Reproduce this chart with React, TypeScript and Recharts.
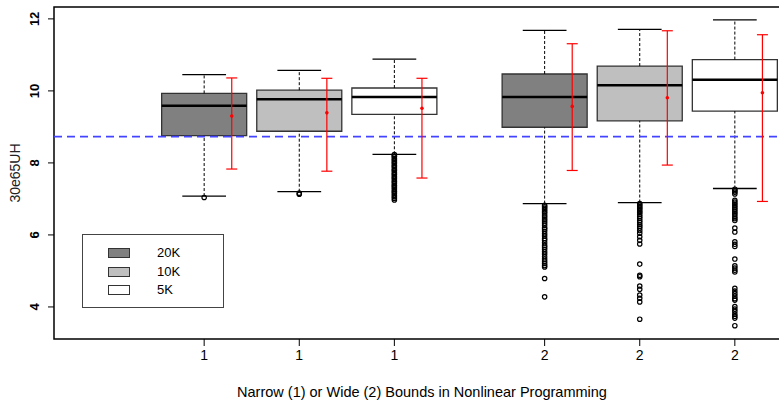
import React from 'react';
import {
  ComposedChart, XAxis, YAxis, Scatter, ErrorBar, ReferenceArea, ReferenceLine, Legend,
} from 'recharts';

// group positions on the x axis and their tick labels
const groupPositions = [1, 2, 3, 4.58, 5.58, 6.58];
const groupLabels = ['1', '1', '1', '2', '2', '2'];
const groupSizes = ['20K', '10K', '5K', '20K', '10K', '5K'];

const legendNames = ['20K', '10K', '5K'];
const legendFills = ['#808080', '#bfbfbf', '#ffffff'];

// box statistics
const whiskerLow = [7.08, 7.2, 8.24, 6.87, 6.9, 7.29];
const q1 = [8.76, 8.88, 9.35, 8.99, 9.17, 9.44];
const medians = [9.59, 9.77, 9.83, 9.83, 10.16, 10.31];
const q3 = [9.93, 10.02, 10.08, 10.47, 10.69, 10.87];
const whiskerHigh = [10.45, 10.57, 10.88, 11.68, 11.71, 11.97];

// red mean +/- interval
const means = [9.3, 9.39, 9.52, 9.57, 9.81, 9.95];
const ciLow = [7.83, 7.77, 7.58, 7.79, 7.94, 6.93];
const ciHigh = [10.36, 10.35, 10.35, 11.31, 11.67, 11.56];

const referenceLevel = 8.73;

const outliers1 = [7.04];
const outliers2 = [7.16, 7.13];
const outliers3 = [
  8.23, 8.19, 8.17, 8.12, 8.09, 8.05, 8.01, 7.98, 7.93, 7.9, 7.86, 7.81, 7.79, 7.74, 7.7, 7.67,
  7.62, 7.59, 7.55, 7.5, 7.47, 7.43, 7.38, 7.35, 7.31, 7.27, 7.22, 7.19, 7.15, 7.1, 7.06, 7.02, 6.97,
];
const outliers4 = [
  6.82, 6.78, 6.74, 6.7, 6.65, 6.61, 6.55, 6.5, 6.44, 6.39, 6.33, 6.27, 6.2, 6.16, 6.1, 6.03,
  5.97, 5.9, 5.85, 5.78, 5.71, 5.66, 5.6, 5.53, 5.47, 5.4, 5.33, 5.27, 5.21, 5.15, 5.11, 4.79, 4.28,
];
const outliers5 = [
  6.87, 6.83, 6.79, 6.75, 6.71, 6.66, 6.62, 6.57, 6.51, 6.46, 6.4, 6.35, 6.29, 6.24, 6.19, 6.12,
  6.05, 5.95, 5.85, 5.75, 5.19, 4.88, 4.84, 4.58, 4.49, 4.33, 4.24, 4.14, 3.66,
];
const outliers6 = [
  7.27, 7.23, 7.19, 7.14, 6.96, 6.91, 6.86, 6.81, 6.76, 6.71, 6.66, 6.61, 6.56, 6.5, 6.45, 6.4,
  6.19, 6.08, 5.81, 5.74, 5.68, 5.33, 5.14, 5.08, 5.02, 4.97, 4.52, 4.44, 4.37, 4.3, 4.23, 4.19,
  4.01, 3.94, 3.88, 3.8, 3.74, 3.69, 3.48,
];
const outlierLists = [outliers1, outliers2, outliers3, outliers4, outliers5, outliers6];

const X_DOMAIN: [number, number] = [-0.579, 7.16];
const Y_DOMAIN: [number, number] = [3.11, 12.33];
const BOX_HALF = 0.447;
const CAP_HALF = 0.23;
const MEAN_SHIFT = 0.29;

const fillFor = (size: string) => legendFills[legendNames.indexOf(size)];

const outlierData = outlierLists.flatMap((list, i) => list.map(v => ({ x: groupPositions[i], y: v })));
const meanData = means.map((m, i) => ({
  x: groupPositions[i] + MEAN_SHIFT,
  y: m,
  err: [m - ciLow[i], ciHigh[i] - m],
}));

const OpenCircle = (props: any) => (
  <circle cx={props.cx} cy={props.cy} r={2.2} fill="none" stroke="#000" strokeWidth={1.2} />
);
const RedDot = (props: any) => <circle cx={props.cx} cy={props.cy} r={1.8} fill="#ff0000" />;

const YTick = (props: any) => {
  const { x, y, payload } = props;
  return (
    <text x={x} y={y} transform={`rotate(-90, ${x}, ${y})`} textAnchor="middle" fontSize={13}
      fontWeight="bold" fill="#000">
      {payload.value}
    </text>
  );
};

const LegendBox = () => (
  <div style={{ position: 'relative', width: 142, height: 74, border: '1px solid #444', boxSizing: 'border-box', background: '#fff' }}>
    {legendNames.map((name, i) => (
      <div key={name} style={{ position: 'absolute', left: 0, top: 13 + i * 18.5, height: 10, width: 140 }}>
        <div style={{ position: 'absolute', left: 25, top: 0, width: 22, height: 10, boxSizing: 'border-box', border: '1px solid #333', background: legendFills[i] }} />
        <div style={{ position: 'absolute', left: 74, top: -3, fontSize: 13, lineHeight: '16px', color: '#000' }}>{name}</div>
      </div>
    ))}
  </div>
);

export default function App() {
  return (
    <div style={{ position: 'absolute', left: 0, top: 0, width: 779, height: 403, overflow: 'hidden', background: '#fff', fontFamily: '"Liberation Sans", Arial, sans-serif' }}>
      <ComposedChart width={800} height={403} margin={{ top: 7, right: 10, bottom: 0, left: 0 }}>
        <XAxis
          type="number"
          dataKey="x"
          domain={X_DOMAIN}
          allowDataOverflow
          ticks={groupPositions}
          tickFormatter={(_v: number, i: number) => groupLabels[i]}
          axisLine={false}
          tickLine={{ stroke: '#000' }}
          tickSize={7}
          tickMargin={4}
          height={64}
          tick={{ fill: '#000', fontSize: 14 }}
          label={{ value: 'Narrow (1) or Wide (2)  Bounds in Nonlinear Programming', position: 'insideBottom', offset: 6, fill: '#000', fontSize: 14.5 }}
        />
        <YAxis
          type="number"
          domain={Y_DOMAIN}
          allowDataOverflow
          ticks={[4, 6, 8, 10, 12]}
          axisLine={false}
          tickLine={{ stroke: '#000' }}
          tickSize={6}
          tickMargin={9}
          width={54}
          tick={<YTick />}
          label={{
            content: (p: any) => {
              const vb = p.viewBox;
              const cx = vb.x + 19.5;
              const cy = vb.y + vb.height / 2;
              return (
                <text x={cx} y={cy} transform={`rotate(-90, ${cx}, ${cy})`} textAnchor="middle" fontSize={14} fill="#222">
                  30e65UH
                </text>
              );
            },
          }}
        />
        <Legend layout="vertical" align="center" verticalAlign="middle" content={<LegendBox />}
          wrapperStyle={{ left: 82, top: 234, width: 142, height: 74 }} />

        {/* boxes */}
        {groupPositions.map((p, i) => (
          <ReferenceArea key={`box${i}`} x1={p - BOX_HALF} x2={p + BOX_HALF} y1={q1[i]} y2={q3[i]}
            fill={fillFor(groupSizes[i])} fillOpacity={1} stroke="#333" strokeWidth={1.3} />
        ))}
        {/* plot frame */}
        <ReferenceArea x1={X_DOMAIN[0]} x2={X_DOMAIN[1]} y1={Y_DOMAIN[0]} y2={Y_DOMAIN[1]}
          fill="none" fillOpacity={0} stroke="#000" strokeWidth={1.5} />

        {/* whiskers */}
        {groupPositions.map((p, i) => (
          <ReferenceLine key={`wl${i}`} segment={[{ x: p, y: whiskerLow[i] }, { x: p, y: q1[i] }]}
            stroke="#000" strokeDasharray="3 2" strokeWidth={1} />
        ))}
        {groupPositions.map((p, i) => (
          <ReferenceLine key={`wh${i}`} segment={[{ x: p, y: q3[i] }, { x: p, y: whiskerHigh[i] }]}
            stroke="#000" strokeDasharray="3 2" strokeWidth={1} />
        ))}
        {groupPositions.map((p, i) => (
          <ReferenceLine key={`cl${i}`} segment={[{ x: p - CAP_HALF, y: whiskerLow[i] }, { x: p + CAP_HALF, y: whiskerLow[i] }]}
            stroke="#000" strokeWidth={1.3} />
        ))}
        {groupPositions.map((p, i) => (
          <ReferenceLine key={`ch${i}`} segment={[{ x: p - CAP_HALF, y: whiskerHigh[i] }, { x: p + CAP_HALF, y: whiskerHigh[i] }]}
            stroke="#000" strokeWidth={1.3} />
        ))}
        {groupPositions.map((p, i) => (
          <ReferenceLine key={`md${i}`} segment={[{ x: p - BOX_HALF, y: medians[i] }, { x: p + BOX_HALF, y: medians[i] }]}
            stroke="#000" strokeWidth={2.5} />
        ))}

        <ReferenceLine y={referenceLevel} stroke="#4444ff" strokeDasharray="8 5" strokeWidth={1.6} />

        <Scatter data={outlierData} dataKey="y" shape={<OpenCircle />} isAnimationActive={false} />
        <Scatter data={meanData} dataKey="y" shape={<RedDot />} isAnimationActive={false}>
          <ErrorBar dataKey="err" direction="y" width={5.5} stroke="#ff0000" strokeWidth={1.2} />
        </Scatter>
      </ComposedChart>
    </div>
  );
}
